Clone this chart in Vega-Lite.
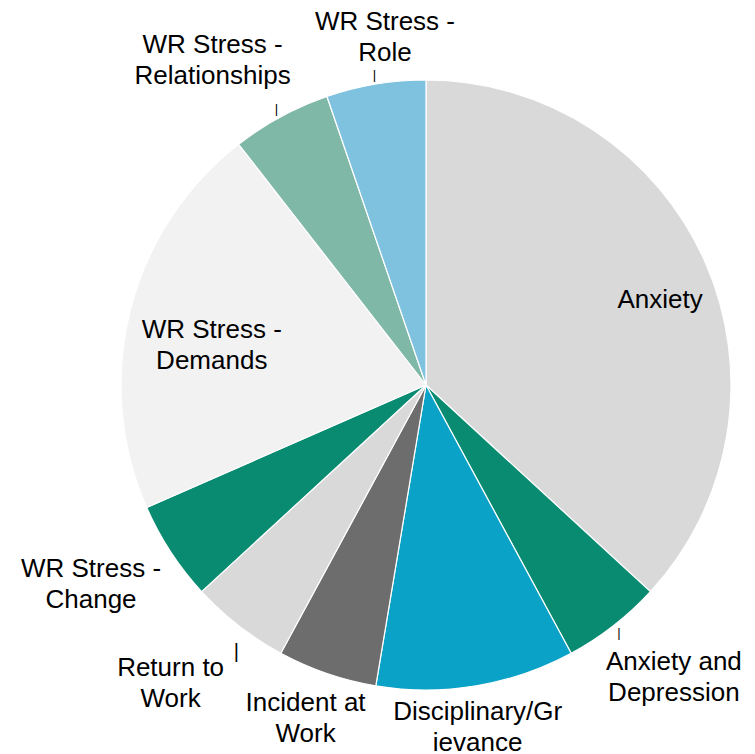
{
  "$schema": "https://vega.github.io/schema/vega-lite/v6.json",
  "width": 658,
  "height": 734,
  "autosize": "none",
  "padding": {"left": 97, "top": 18, "right": 0, "bottom": 2},
  "background": "#ffffff",
  "config": {
    "view": {"stroke": null},
    "text": {"font": "Liberation Sans", "fontSize": 26, "lineHeight": 31, "lineBreak": "\n", "align": "center", "baseline": "middle", "fill": "#000000"}
  },
  "data": {
    "values": [
      {"category": "Anxiety", "value": 7, "label": "Anxiety"},
      {"category": "Anxiety and Depression", "value": 1, "label": "Anxiety and\nDepression"},
      {"category": "Disciplinary/Grievance", "value": 2, "label": "Disciplinary/Gr\nievance"},
      {"category": "Incident at Work", "value": 1, "label": "Incident at\nWork"},
      {"category": "Return to Work", "value": 1, "label": "Return to\nWork"},
      {"category": "WR Stress - Change", "value": 1, "label": "WR Stress -\nChange"},
      {"category": "WR Stress - Demands", "value": 4, "label": "WR Stress -\nDemands"},
      {"category": "WR Stress - Relationships", "value": 1, "label": "WR Stress -\nRelationships"},
      {"category": "WR Stress - Role", "value": 1, "label": "WR Stress -\nRole"}
    ]
  },
  "encoding": {
    "theta": {"field": "value", "type": "quantitative", "stack": true},
    "order": {"field": "category", "type": "nominal", "sort": "ascending"}
  },
  "layer": [
    {
      "mark": {"type": "arc", "outerRadius": 305, "stroke": "#ffffff", "strokeWidth": 1.2},
      "encoding": {
        "color": {
          "field": "category",
          "type": "nominal",
          "legend": null,
          "scale": {
            "domain": ["Anxiety", "Anxiety and Depression", "Disciplinary/Grievance", "Incident at Work", "Return to Work", "WR Stress - Change", "WR Stress - Demands", "WR Stress - Relationships", "WR Stress - Role"],
            "range": ["#d9d9d9", "#098b72", "#0aa2c7", "#6d6d6d", "#d9d9d9", "#098b72", "#f2f2f2", "#80b8a8", "#7fc2e0"]
          }
        }
      }
    },
    {
      "mark": {"type": "text", "radius": 248, "dx": 7, "dy": 15},
      "encoding": {"text": {"condition": {"test": "datum.category === 'Anxiety'", "field": "label"}, "value": ""}}
    },
    {
      "mark": {"type": "text", "radius": 221, "dx": 0, "dy": -1},
      "encoding": {"text": {"condition": {"test": "datum.category === 'WR Stress - Demands'", "field": "label"}, "value": ""}}
    },
    {
      "mark": {"type": "text", "radius": 365, "dx": 19, "dy": -3},
      "encoding": {"text": {"condition": {"test": "datum.category === 'WR Stress - Role'", "field": "label"}, "value": ""}}
    },
    {
      "mark": {"type": "text", "radius": 400, "dx": -23, "dy": 12},
      "encoding": {"text": {"condition": {"test": "datum.category === 'WR Stress - Relationships'", "field": "label"}, "value": ""}}
    },
    {
      "mark": {"type": "text", "radius": 381, "dx": -16, "dy": -24},
      "encoding": {"text": {"condition": {"test": "datum.category === 'WR Stress - Change'", "field": "label"}, "value": ""}}
    },
    {
      "mark": {"type": "text", "radius": 380, "dx": -22, "dy": -17},
      "encoding": {"text": {"condition": {"test": "datum.category === 'Return to Work'", "field": "label"}, "value": ""}}
    },
    {
      "mark": {"type": "text", "radius": 340, "dx": -10, "dy": -4},
      "encoding": {"text": {"condition": {"test": "datum.category === 'Incident at Work'", "field": "label"}, "value": ""}}
    },
    {
      "mark": {"type": "text", "radius": 332, "dx": -3, "dy": 0},
      "encoding": {"text": {"condition": {"test": "datum.category === 'Disciplinary/Grievance'", "field": "label"}, "value": ""}}
    },
    {
      "mark": {"type": "text", "radius": 371, "dx": 20, "dy": -16},
      "encoding": {"text": {"condition": {"test": "datum.category === 'Anxiety and Depression'", "field": "label"}, "value": ""}}
    },
    {
      "mark": {"type": "text", "radius": 314, "fontSize": 13, "fill": "#000000"},
      "encoding": {"text": {"condition": {"test": "datum.category === 'WR Stress - Role' || datum.category === 'WR Stress - Relationships' || datum.category === 'Anxiety and Depression'", "value": "|"}, "value": ""}}
    },
    {
      "mark": {"type": "text", "radius": 338, "dx": 18, "fontSize": 20, "fill": "#000000"},
      "encoding": {"text": {"condition": {"test": "datum.category === 'Return to Work'", "value": "|"}, "value": ""}}
    }
  ]
}
